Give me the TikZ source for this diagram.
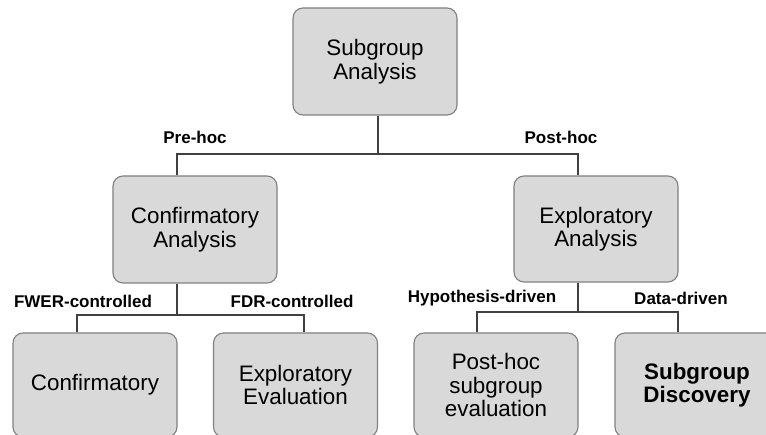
\documentclass[tikz,border=0pt]{standalone}
\usepackage{fontspec}
\setmainfont{Liberation Sans}
\begin{document}
\begin{tikzpicture}[x=1pt,y=-1pt,
  box/.style={draw=black!50,line width=1.1pt,fill=black!15,rounded corners=10pt,
    minimum width=164pt,inner sep=0pt,align=center,
    font=\fontsize{22.4}{23.5}\selectfont},
  lbl/.style={font=\fontsize{17}{19}\selectfont\bfseries,inner sep=0pt},
  conn/.style={draw=black!75,line width=2.4pt}]
\useasboundingbox (0,0) rectangle (766,435);
\clip (0,0) rectangle (766,435);
\fill[white] (0,0) rectangle (766,435);
% boxes
\node[box,minimum height=107pt] (top) at (375,61.5) {Subgroup\\Analysis};
\node[box,minimum height=107pt] (ca) at (195,229.5) {Confirmatory\\Analysis};
\node[box,minimum height=106pt] (ea) at (596,229) {Exploratory\\Analysis};
\node[box,minimum height=104pt] (c1) at (95,385) {Confirmatory};
\node[box,minimum height=104pt] (c2) at (295.5,385) {Exploratory\\Evaluation};
\node[box,minimum height=104pt] (e1) at (496,385) {Post-hoc\\subgroup\\evaluation};
\node[box,minimum height=104pt,font=\fontsize{22.4}{23.5}\selectfont\bfseries] (e2) at (697,385) {Subgroup\\Discovery};
% labels
\node[lbl] (pre) at (195,137) {Pre-hoc};
\node[lbl] (post) at (561,137) {Post-hoc};
\node[lbl] (fwer) at (83,301) {FWER-controlled};
\node[lbl] (fdr) at (292,301) {FDR-controlled};
\node[lbl] (hyp) at (482,298) {Hypothesis-driven};
\node[lbl] (dat) at (681,298) {Data-driven};
% junction coordinates
\coordinate (cT) at (378,154);
\coordinate (cL) at (177,154);
\coordinate (cR) at (578,154);
\coordinate (lM) at (177,315);
\coordinate (lL) at (77,315);
\coordinate (lR) at (304,315);
\coordinate (rM) at (578,312);
\coordinate (rL) at (477,312);
\coordinate (rR) at (678,312);
% connectors
\draw[conn] (top.south -| cT) -- (cT);
\draw[conn] (ca.north -| cL) -- (cL) -- (cR) -- (ea.north -| cR);
\draw[conn] (ca.south -| lM) -- (lM);
\draw[conn] (c1.north -| lL) -- (lL) -- (lR) -- (c2.north -| lR);
\draw[conn] (ea.south -| rM) -- (rM);
\draw[conn] (e1.north -| rL) -- (rL) -- (rR) -- (e2.north -| rR);
\end{tikzpicture}
\end{document}
